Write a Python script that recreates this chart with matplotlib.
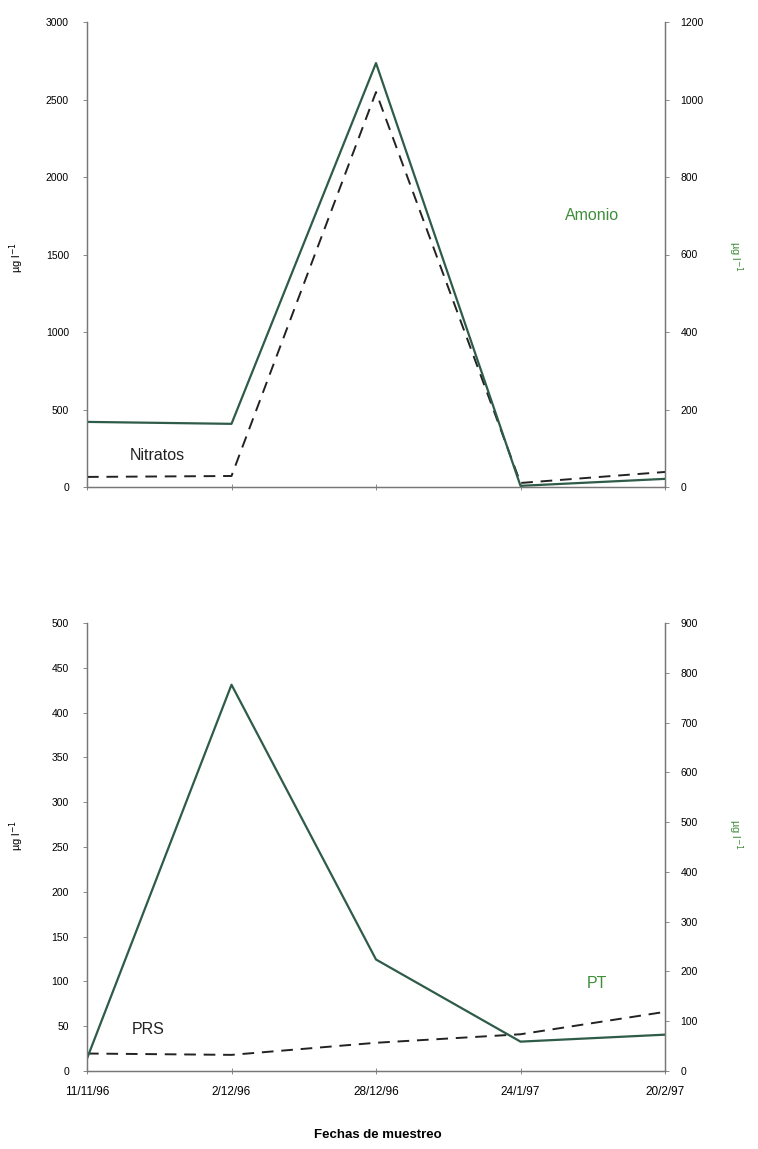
import matplotlib
matplotlib.use("Agg")
import matplotlib.pyplot as plt

plt.rcParams['font.family'] = ['Liberation Sans', 'DejaVu Sans']

fechas = ["11/11/96", "2/12/96", "28/12/96", "24/1/97", "20/2/97"]
nitratos = [65, 71, 2548, 26, 97]        # left axis, top
amonio = [168, 163, 1094, 3, 21]          # right axis, top
prs = [19.5, 18, 31.5, 41, 66]            # left axis, bottom
pt = [25, 776, 224, 59, 73]               # right axis, bottom

GREEN_LINE = '#2e5c48'
GREEN_TXT = '#3f8f3a'
SPINE = '#777777'

fig = plt.figure(figsize=(7.58, 11.49), dpi=100)
x = list(range(len(fechas)))


def style(ax, ax2, left_lim, left_ticks, right_lim, right_ticks, show_xlabels, ylab_y):
    ax.set_xlim(0, len(fechas) - 1)
    ax.set_ylim(*left_lim)
    ax.set_yticks(left_ticks)
    ax2.set_ylim(*right_lim)
    ax2.set_yticks(right_ticks)
    ax.set_xticks(x)
    if show_xlabels:
        ax.set_xticklabels(fechas)
    else:
        ax.set_xticklabels([])
    for a in (ax, ax2):
        a.spines['top'].set_visible(False)
        for s in a.spines.values():
            s.set_color(SPINE)
            s.set_linewidth(0.9)
    ax.tick_params(axis='y', direction='out', length=3, width=0.6, color=SPINE,
                   labelsize=7.5, pad=10)
    ax.tick_params(axis='x', direction='inout', length=5, width=0.6, color=SPINE,
                   labelsize=8.5, pad=8)
    ax2.tick_params(axis='y', direction='out', length=3, width=0.6, color=SPINE,
                    labelsize=7.5, pad=8)
    fig.text(17 / 758, 1 - ylab_y / 1149, "µg l$^{-1}$", fontsize=8,
             rotation=90, ha='center', va='center')
    fig.text(735 / 758, 1 - ylab_y / 1149, "µg l$^{-1}$", fontsize=8,
             rotation=270, ha='center', va='center', color=GREEN_TXT)


# Top chart
ax1 = fig.add_axes([87 / 758, 1 - 487 / 1149, 578 / 758, 465 / 1149])
ax1b = ax1.twinx()
ax1.plot(x, nitratos, color='#222222', lw=1.4, ls=(0, (6, 4)), zorder=3)
ax1b.plot(x, amonio, color=GREEN_LINE, lw=1.6, zorder=2)
style(ax1, ax1b, (0, 3000), range(0, 3001, 500), (0, 1200), range(0, 1201, 200),
      False, 257)
ax1.text(157 / 758, 1 - 456 / 1149, "Nitratos", transform=fig.transFigure,
         fontsize=11.5, ha='center', va='center', color='#222222')
ax1.text(592 / 758, 1 - 215 / 1149, "Amonio", transform=fig.transFigure,
         fontsize=11.5, ha='center', va='center', color=GREEN_TXT)

# Bottom chart
ax2 = fig.add_axes([87 / 758, 1 - 1071 / 1149, 578 / 758, 448 / 1149])
ax2b = ax2.twinx()
ax2.plot(x, prs, color='#222222', lw=1.4, ls=(0, (6, 4)), zorder=3)
ax2b.plot(x, pt, color=GREEN_LINE, lw=1.6, zorder=2)
style(ax2, ax2b, (0, 500), range(0, 501, 50), (0, 900), range(0, 901, 100),
      True, 835)
ax2.text(148 / 758, 1 - 1030 / 1149, "PRS", transform=fig.transFigure,
         fontsize=11.5, ha='center', va='center', color='#222222')
ax2.text(597 / 758, 1 - 984 / 1149, "PT", transform=fig.transFigure,
         fontsize=11.5, ha='center', va='center', color=GREEN_TXT)

fig.text(378 / 758, 1 - 1135 / 1149, "Fechas de muestreo", fontsize=9.5,
         fontweight='bold', ha='center', va='center')

fig.savefig("out.png", dpi=100)
